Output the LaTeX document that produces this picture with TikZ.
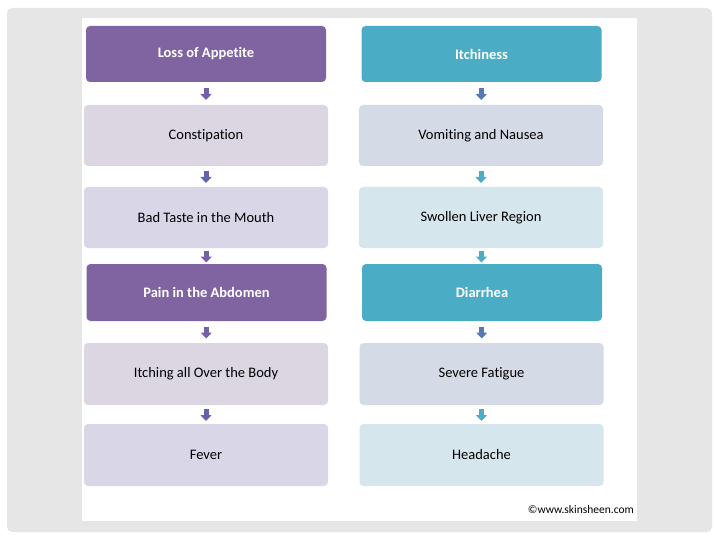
\documentclass[tikz,border=0pt]{standalone}
\usepackage{fontspec}
\setmainfont[Ligatures={NoCommon}]{Carlito}
\usetikzlibrary{calc,arrows.meta}
\definecolor{purp}{HTML}{8064A2}
\definecolor{teal}{HTML}{4BACC6}
\definecolor{lpA}{HTML}{DCD6E3}
\definecolor{lpB}{HTML}{D9D7E7}
\definecolor{lbA}{HTML}{D5DAE7}
\definecolor{ltA}{HTML}{D5E6EC}
\definecolor{arP}{HTML}{7660A8}
\definecolor{arV}{HTML}{6462AA}
\definecolor{arB}{HTML}{5878B0}
\definecolor{arT}{HTML}{4BACC6}
\definecolor{slide}{HTML}{E6E6E6}
\tikzset{
  box/.style={rounded corners=4pt, inner sep=0pt, font=\fontsize{14.5}{16}\selectfont, text=black},
  head/.style={box, text=white, font=\fontsize{14.5}{16}\selectfont\bfseries},
  wide/.style={minimum width=244pt, minimum height=61pt},
  narrow/.style={minimum width=240pt, minimum height=56pt},
  blk/.style={line width=5pt, -{Triangle[width=11pt,length=6pt]}, shorten >=0pt},
}
\begin{document}
\begin{tikzpicture}[x=1pt,y=-1pt]
\useasboundingbox (0,0) rectangle (720,540);
\fill[white] (0,0) rectangle (720,540);
\fill[slide, rounded corners=5pt] (7,8) rectangle (712,532);
\fill[white] (82,18) rectangle (637,521);
% left column
\node[head, narrow, fill=purp] (l1) at (206,54) {Loss of Appetite};
\node[box, wide, fill=lpA] (l2) at (206,135.5) {Constipation};
\node[box, wide, fill=lpB] (l3) at (206,217.5) {Bad Taste in the Mouth};
\node[head, narrow, minimum height=57pt, fill=purp] (l4) at (206.5,292.5) {Pain in the Abdomen};
\node[box, wide, minimum height=62pt, fill=lpA] (l5) at (206,374) {Itching all Over the Body};
\node[box, wide, minimum height=62pt, fill=lpB] (l6) at (206,455) {Fever};
% right column
\node[head, narrow, fill=teal] (r1) at (481.5,54) {Itchiness};
\node[box, wide, fill=lbA] (r2) at (481,135.5) {Vomiting and Nausea};
\node[box, wide, fill=ltA] (r3) at (481,217.5) {Swollen Liver Region};
\node[head, narrow, minimum height=57pt, fill=teal] (r4) at (482,292.5) {Diarrhea};
\node[box, wide, minimum height=62pt, fill=lbA] (r5) at (481.5,374) {Severe Fatigue};
\node[box, wide, minimum height=62pt, fill=ltA] (r6) at (481.5,455) {Headache};
% arrows
\foreach \a/\b/\c in {l1/l2/arP, l2/l3/arV, l3/l4/arP, l4/l5/arP, l5/l6/arV,
                      r1/r2/arB, r2/r3/arT, r3/r4/arT, r4/r5/arB, r5/r6/arT}{
  \draw[blk, draw=\c, fill=\c] ($(\a.south)!.5!(\b.north)+(0,-5.5)$) -- ($(\a.south)!.5!(\b.north)+(0,6.5)$);
}
\node[anchor=east, font=\fontsize{11.5}{12}\selectfont, inner sep=0pt] (cr) at (634,510) {©www.skinsheen.com};
\end{tikzpicture}
\end{document}
